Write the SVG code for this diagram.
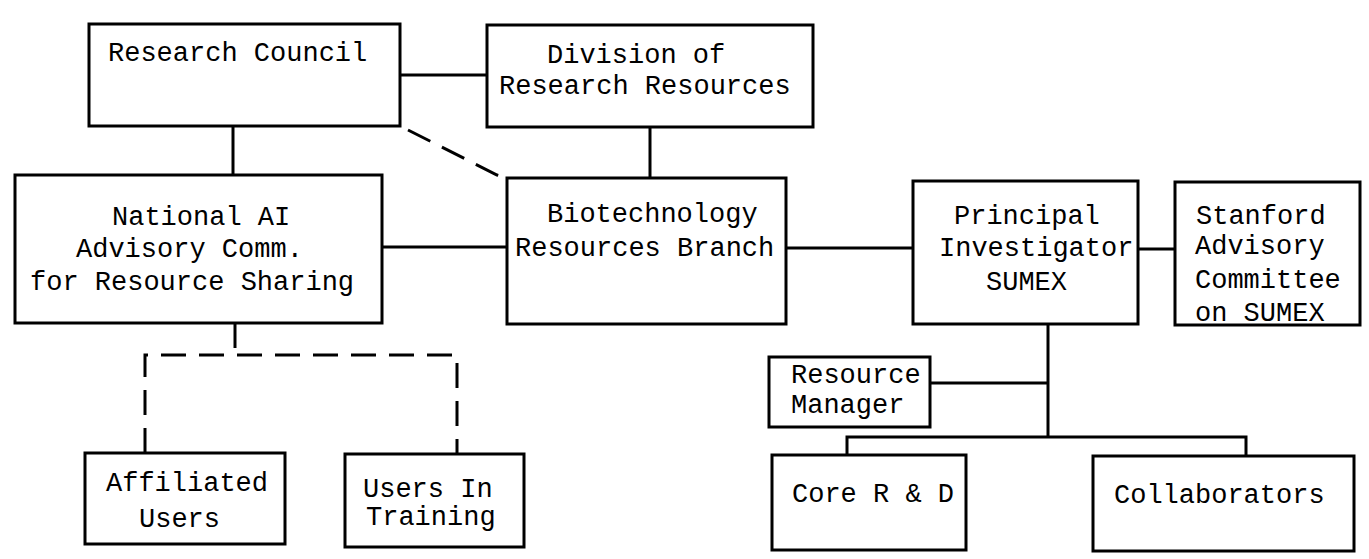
<svg xmlns="http://www.w3.org/2000/svg" width="1369" height="559" viewBox="0 0 1369 559">
<style>
.box{fill:#fff;stroke:#000;stroke-width:3}
.t{font-family:"Liberation Mono",monospace;font-size:27px;fill:#000}
.ln{fill:none;stroke:#000;stroke-width:3}
.dash{fill:none;stroke:#000;stroke-width:3;stroke-dasharray:25 13}
</style>
<rect width="1369" height="559" fill="#fff"/>
<g id="connectors">
<line class="ln" x1="400" y1="75" x2="487" y2="75"/>
<line class="ln" x1="233" y1="126" x2="233" y2="175"/>
<line class="ln" x1="650" y1="127" x2="650" y2="178"/>
<path class="dash" d="M408,130 L497,175 L507,178"/>
<line class="ln" x1="382" y1="247" x2="507" y2="247"/>
<line class="ln" x1="786" y1="248" x2="913" y2="248"/>
<line class="ln" x1="1138" y1="249" x2="1175" y2="249"/>
<line class="ln" x1="1048" y1="324" x2="1048" y2="437"/>
<line class="ln" x1="930" y1="383" x2="1048" y2="383"/>
<path class="ln" d="M847,455 L847,437 L1246,437 L1246,456"/>
<line class="dash" x1="235" y1="323" x2="235" y2="355" stroke-dasharray="10 12"/>
<path class="dash" d="M145,453 L145,355 L457,355 L457,454"/>
</g>
<g id="research-council">
<rect class="box" x="89" y="24" width="311" height="102"/>
<text class="t" x="108" y="61">Research Council</text>
</g>
<g id="division">
<rect class="box" x="487" y="25" width="326" height="102"/>
<text class="t" x="547" y="63">Division of</text>
<text class="t" x="499" y="94">Research Resources</text>
</g>
<g id="national">
<rect class="box" x="15" y="175" width="367" height="148"/>
<text class="t" x="112" y="225">National AI</text>
<text class="t" x="76" y="257">Advisory Comm.</text>
<text class="t" x="30" y="290">for Resource Sharing</text>
</g>
<g id="biotech">
<rect class="box" x="507" y="178" width="279" height="146"/>
<text class="t" x="547" y="222">Biotechnology</text>
<text class="t" x="515" y="256">Resources Branch</text>
</g>
<g id="pi">
<rect class="box" x="913" y="181" width="225" height="143"/>
<text class="t" x="954" y="224">Principal</text>
<text class="t" x="939" y="256">Investigator</text>
<text class="t" x="986" y="290">SUMEX</text>
</g>
<g id="stanford">
<rect class="box" x="1175" y="182" width="185" height="143"/>
<text class="t" x="1196" y="224">Stanford</text>
<text class="t" x="1195" y="254">Advisory</text>
<text class="t" x="1195" y="288">Committee</text>
<text class="t" x="1195" y="321">on SUMEX</text>
</g>
<g id="resource-manager">
<rect class="box" x="769" y="357" width="161" height="70"/>
<text class="t" x="791" y="383">Resource</text>
<text class="t" x="791" y="413">Manager</text>
</g>
<g id="core">
<rect class="box" x="772" y="455" width="194" height="95"/>
<text class="t" x="792" y="502">Core R &amp; D</text>
</g>
<g id="collaborators">
<rect class="box" x="1093" y="456" width="261" height="95"/>
<text class="t" x="1114" y="503">Collaborators</text>
</g>
<g id="affiliated">
<rect class="box" x="85" y="453" width="200" height="91"/>
<text class="t" x="106" y="491">Affiliated</text>
<text class="t" x="139" y="527">Users</text>
</g>
<g id="training">
<rect class="box" x="345" y="454" width="179" height="93"/>
<text class="t" x="363" y="497">Users In</text>
<text class="t" x="366" y="525">Training</text>
</g>
</svg>
